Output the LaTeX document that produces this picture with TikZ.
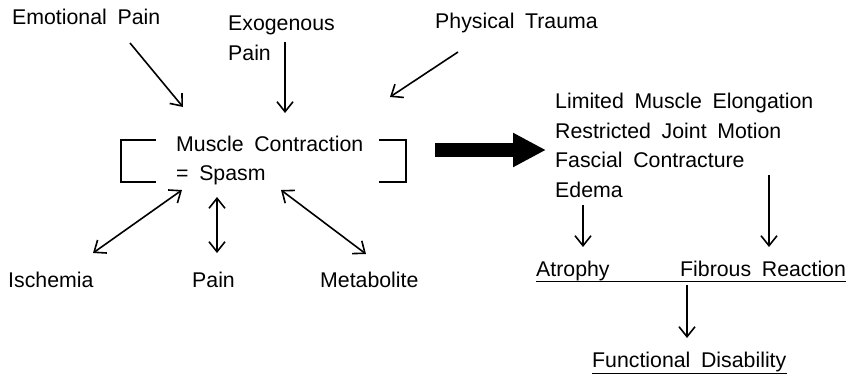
\documentclass[tikz,border=0pt]{standalone}
\usepackage{fontspec}
\setmainfont[WordSpace=1.8]{Liberation Sans}
\usetikzlibrary{arrows.meta}
\begin{document}
\begin{tikzpicture}[x=1pt,y=-1pt,
  lbl/.style={anchor=base west, inner sep=0pt, font=\fontsize{21.3}{25}\selectfont},
  arr/.style={line width=1.6pt, -{Straight Barb[length=10pt,width=16pt]}},
  darr/.style={line width=1.6pt, {Straight Barb[length=10pt,width=16pt]}-{Straight Barb[length=10pt,width=16pt]}},
  brk/.style={line width=1.8pt},
  ul/.style={line width=1pt},
  bigarr/.style={line width=14pt, -{Triangle[length=33pt,width=32pt]}}]
\useasboundingbox (0,0) rectangle (849,375);
% labels
\node[lbl] (emo) at (12,24) {Emotional Pain};
\node[lbl] (exo1) at (228,30) {Exogenous};
\node[lbl] (exo2) at (228,60) {Pain};
\node[lbl] (phy) at (435,28) {Physical Trauma};
\node[lbl] (mc1) at (176,151) {Muscle Contraction};
\node[lbl] (mc2) at (176,180) {= Spasm};
\node[lbl] (isc) at (8,287) {Ischemia};
\node[lbl] (pain) at (192,287) {Pain};
\node[lbl] (met) at (320,287) {Metabolite};
\node[lbl] (r1) at (555,108) {Limited Muscle Elongation};
\node[lbl] (r2) at (555,138) {Restricted Joint Motion};
\node[lbl] (r3) at (555,167) {Fascial Contracture};
\node[lbl] (r4) at (555,197) {Edema};
\node[lbl] (atr) at (536,276) {Atrophy};
\node[lbl] (fib) at (680,276) {Fibrous Reaction};
\node[lbl] (fun) at (592,367) {Functional Disability};
% coordinates
\coordinate (e1) at (130,43);  \coordinate (e2) at (183,107);
\coordinate (x1) at (285,42);  \coordinate (x2) at (285,113);
\coordinate (p1) at (458,52);  \coordinate (p2) at (390,97);
\coordinate (i1) at (182,190); \coordinate (i2) at (93,253);
\coordinate (q1) at (217,197); \coordinate (q2) at (217,253);
\coordinate (m1) at (281,190); \coordinate (m2) at (366,254);
\coordinate (a1) at (583,205); \coordinate (a2) at (583,247);
\coordinate (f1) at (769,175); \coordinate (f2) at (769,247);
\coordinate (d1) at (687,285); \coordinate (d2) at (687,338);
\coordinate (b1) at (435,150); \coordinate (b2) at (546,150);
% arrows
\draw[arr] (e1) -- (e2);
\draw[arr] (x1) -- (x2);
\draw[arr] (p1) -- (p2);
\draw[darr] (i1) -- (i2);
\draw[darr] (q1) -- (q2);
\draw[darr] (m1) -- (m2);
\draw[arr] (a1) -- (a2);
\draw[arr] (f1) -- (f2);
\draw[arr] (d1) -- (d2);
\draw[bigarr] (b1) -- (b2);
% brackets
\draw[brk] (156,140) -- (121,140) -- (121,182) -- (156,182);
\draw[brk] (379,140) -- (406,140) -- (406,182) -- (379,182);
% underlines
\draw[ul] ([yshift=-5pt]atr.base west) -- ([yshift=-5pt]fib.base east);
\draw[ul] ([yshift=-6pt]fun.base west) -- ([yshift=-6pt]fun.base east);
\end{tikzpicture}
\end{document}
